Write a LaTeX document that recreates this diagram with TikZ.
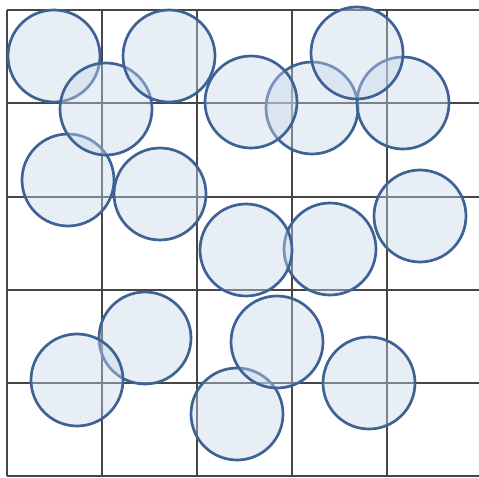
\documentclass[tikz,border=0pt]{standalone}
\usepackage{tikz}

\definecolor{RimBlue}{RGB}{62,98,148}
\definecolor{DiscFill}{RGB}{200,214,234}
\definecolor{GridGrey}{RGB}{70,70,70}

\begin{document}
\begin{tikzpicture}[
x=0.03cm, y=-0.03cm,
gridline/.style={draw=GridGrey, line width=1.5pt},
disc/.style={draw=RimBlue, line width=2.3pt, fill=DiscFill, fill opacity=0.42, draw opacity=1}
]
\useasboundingbox (0,0) rectangle (479,477);
% grid
\foreach \gx in {7,102,197,292,387}
  \draw[gridline] (\gx,10) -- (\gx,476);
\foreach \gy in {10,103,197,290,383,476}
  \draw[gridline] (7,\gy) -- (479,\gy);
% discs, in drawing order
\foreach \cx/\cy in {54/56, 68/180, 106/109, 169/56, 160/194,
  312/108, 251/102, 403/103, 357/53, 420/216,
  330/249, 246/250, 145/338, 77/380,
  237/414, 277/342, 369/383}
  \draw[disc] (\cx,\cy) circle[radius=46];
\end{tikzpicture}
\end{document}
